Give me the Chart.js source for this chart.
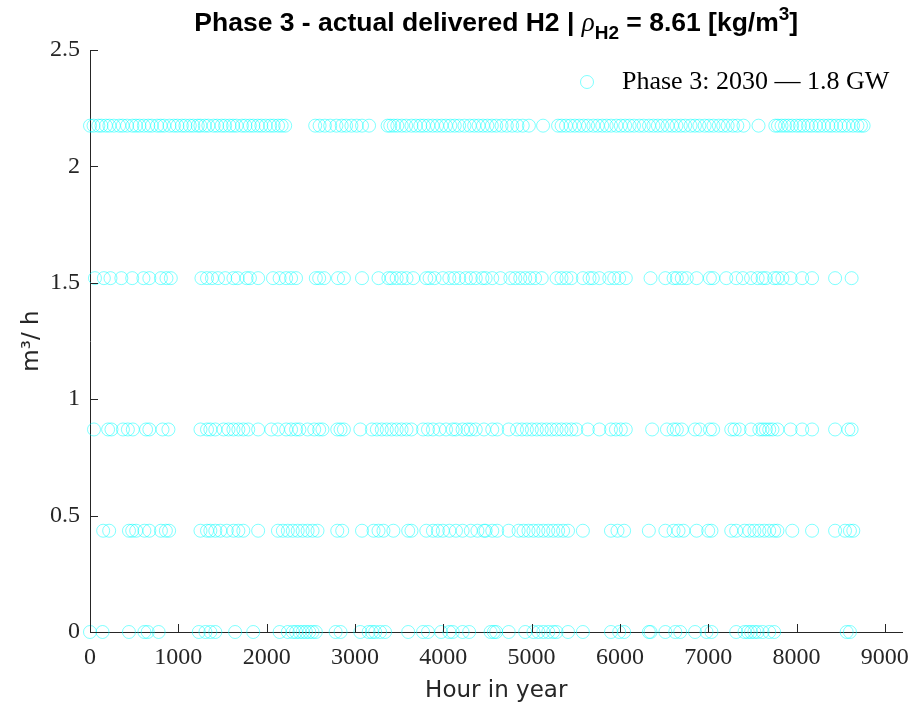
<!DOCTYPE html>
<html>
<head>
<meta charset="utf-8">
<script src="https://cdn.jsdelivr.net/npm/chart.js@4/dist/chart.umd.min.js"></script>
<style>
  html, body { margin: 0; padding: 0; background: #fff; }
  #wrap { width: 920px; height: 708px; }
</style>
</head>
<body>
<div id="wrap"><canvas id="phase3" width="920" height="708"></canvas></div>
<script>
"use strict";

// delivered flow levels [m3/h] and the hours of the year at which each one occurs
const levels = [0, 0.435, 0.87, 1.52, 2.175];

const hoursAt0 = [0, 142, 441, 616, 653, 777, 1232, 1307, 1363, 1419, 1643, 1848, 2147, 2240, 2296, 2333,
    2371, 2408, 2445, 2483, 2520, 2557, 2781, 2837, 3061, 3155, 3192, 3229, 3285, 3341, 3603, 3771, 3827,
    3976, 4069, 4107, 4219, 4293, 4536, 4573, 4599, 4741, 4928, 5021, 5077, 5133, 5189, 5245, 5283, 5413,
    5581, 5899, 5992, 6048, 6328, 6347, 6515, 6627, 6683, 6851, 6981, 7037, 7317, 7411, 7448, 7485, 7523,
    7560, 7616, 7691, 7747, 8568, 8605];

const hoursAt0435 = [149, 217, 441, 478, 523, 616, 672, 803, 859, 896, 1251, 1325, 1363, 1419, 1475, 1549,
    1624, 1680, 1736, 1904, 2128, 2184, 2240, 2296, 2352, 2408, 2464, 2520, 2576, 2800, 2856, 3080, 3211,
    3267, 3323, 3435, 3603, 3640, 3808, 3883, 3939, 3995, 4069, 4144, 4219, 4312, 4387, 4461, 4480, 4555,
    4611, 4741, 4853, 4909, 4965, 5021, 5077, 5133, 5189, 5245, 5301, 5357, 5413, 5581, 5899, 5973, 6048,
    6328, 6515, 6608, 6664, 6720, 6869, 7000, 7037, 7261, 7317, 7411, 7467, 7523, 7579, 7635, 7691, 7747,
    7784, 7952, 8176, 8437, 8549, 8605, 8643];

const hoursAt087 = [45, 205, 243, 373, 429, 485, 635, 672, 821, 888, 1251, 1325, 1363, 1419, 1512, 1568,
    1624, 1680, 1736, 1792, 1904, 2053, 2128, 2221, 2277, 2333, 2371, 2464, 2539, 2595, 2632, 2800, 2837,
    2875, 3061, 3192, 3248, 3304, 3360, 3416, 3472, 3528, 3584, 3640, 3771, 3827, 3883, 3957, 4032, 4107,
    4144, 4219, 4275, 4312, 4368, 4461, 4555, 4611, 4741, 4835, 4891, 4947, 5003, 5059, 5115, 5171, 5227,
    5283, 5339, 5395, 5451, 5507, 5637, 5768, 5899, 5955, 6011, 6067, 6365, 6533, 6608, 6645, 6701, 6851,
    6907, 7019, 7056, 7261, 7299, 7355, 7485, 7579, 7616, 7653, 7691, 7728, 7784, 7933, 8064, 8176, 8437,
    8587, 8624];

const hoursAt152 = [56, 157, 232, 355, 478, 605, 672, 803, 866, 915, 1262, 1325, 1381, 1449, 1531, 1624,
    1672, 1773, 1811, 1904, 2072, 2147, 2221, 2277, 2333, 2557, 2595, 2651, 2808, 2875, 3080, 3267, 3379,
    3416, 3472, 3528, 3584, 3659, 3808, 3845, 3901, 3995, 4069, 4125, 4181, 4256, 4312, 4368, 4443, 4480,
    4555, 4648, 4760, 4816, 4872, 4928, 4984, 5040, 5115, 5283, 5339, 5395, 5451, 5581, 5656, 5693, 5768,
    5880, 5936, 5992, 6067, 6347, 6515, 6608, 6645, 6701, 6757, 6869, 7019, 7056, 7205, 7317, 7392, 7485,
    7560, 7616, 7653, 7747, 7784, 7840, 7933, 8064, 8176, 8437, 8624];

const hoursAt2175 = [0, 40, 95, 130, 180, 220, 270, 330, 370, 420, 480, 520, 560, 610, 660, 700, 760, 800,
    840, 900, 950, 990, 1040, 1080, 1130, 1170, 1220, 1250, 1300, 1340, 1400, 1440, 1490, 1530, 1580, 1620,
    1660, 1720, 1760, 1810, 1850, 1900, 1940, 1990, 2040, 2080, 2130, 2170, 2210,
    2550, 2600, 2660, 2720, 2790, 2850, 2900, 2960, 3020, 3080, 3160,
    3370, 3400, 3440, 3480, 3530, 3580, 3640, 3690, 3740, 3780, 3830, 3880, 3930, 3980, 4030, 4080, 4130,
    4180, 4240, 4300, 4350, 4400, 4450, 4500, 4550, 4600, 4660, 4720, 4780, 4840, 4900, 4970,
    5130,
    5300, 5340, 5390, 5440, 5490, 5540, 5590, 5640, 5700, 5750, 5800, 5850, 5900, 5960, 6010, 6060, 6110,
    6160, 6220, 6270, 6330, 6380, 6430, 6480, 6540, 6590, 6640, 6690, 6740, 6800, 6850, 6900, 6960, 7010,
    7060, 7120, 7170, 7220, 7280, 7330, 7400,
    7570,
    7760, 7790, 7830, 7870, 7910, 7950, 8000, 8040, 8080, 8130, 8170, 8220, 8260, 8310, 8360, 8400, 8450,
    8500, 8540, 8590, 8640, 8690, 8730, 8760];

const xTicks = [0, 1000, 2000, 3000, 4000, 5000, 6000, 7000, 8000, 9000];
const yTicks = [0, 0.5, 1, 1.5, 2, 2.5];
const seriesLabel = 'Phase 3: 2030 \u2014 1.8 GW';

const MARKER = 'rgba(0, 255, 255, 0.5)';
const AXIS = '#262626';
const TICK_FONT = {family: 'Liberation Serif', size: 24};
const LABEL_FONT = {family: 'DejaVu Sans', size: 23};

const hourLists = [hoursAt0, hoursAt0435, hoursAt087, hoursAt152, hoursAt2175];
const points = [];
hourLists.forEach((hours, i) => {
    hours.forEach(h => points.push({x: h, y: levels[i]}));
});

// title with sub/superscripts, inward ticks and the legend are drawn here
const decorPlugin = {
    id: 'phase3Decor',
    afterDraw(chart) {
        const ctx = chart.ctx;
        const area = chart.chartArea;
        const xs = chart.scales.x;
        const ys = chart.scales.y;

        ctx.save();
        ctx.strokeStyle = AXIS;
        ctx.lineWidth = 1;
        ctx.beginPath();
        xTicks.forEach(v => {
            const px = Math.round(xs.getPixelForValue(v)) + 0.5;
            ctx.moveTo(px, area.bottom);
            ctx.lineTo(px, area.bottom - 8);
        });
        yTicks.forEach(v => {
            const py = Math.round(ys.getPixelForValue(v)) + 0.5;
            ctx.moveTo(area.left, py);
            ctx.lineTo(area.left + 8, py);
        });
        ctx.stroke();

        // title
        const big = 'bold 26.5px "Liberation Sans"';
        const small = 'bold 19px "Liberation Sans"';
        const parts = [
            {t: 'Phase 3 - actual delivered H2 | ', f: big, dy: 0},
            {t: '\u03C1', f: 'italic 27px "Liberation Serif"', dy: 0},
            {t: 'H2', f: small, dy: 8},
            {t: ' = 8.61 [kg/m', f: big, dy: 0},
            {t: '3', f: small, dy: -11},
            {t: ']', f: big, dy: 0}
        ];
        let total = 0;
        parts.forEach(p => {
            ctx.font = p.f;
            p.w = ctx.measureText(p.t).width;
            total += p.w;
        });
        let tx = (area.left + area.right) / 2 - total / 2;
        ctx.fillStyle = '#000';
        ctx.textBaseline = 'alphabetic';
        ctx.textAlign = 'left';
        parts.forEach(p => {
            ctx.font = p.f;
            ctx.fillText(p.t, tx, 31 + p.dy);
            tx += p.w;
        });

        // legend
        ctx.strokeStyle = MARKER;
        ctx.beginPath();
        ctx.arc(587, 82, 6.5, 0, Math.PI * 2);
        ctx.stroke();
        ctx.fillStyle = '#000';
        ctx.font = '26px "Liberation Serif"';
        ctx.textBaseline = 'middle';
        ctx.fillText(chart.data.datasets[0].label, 622, 82);
        ctx.restore();
    }
};

new Chart(document.getElementById('phase3'), {
    type: 'scatter',
    data: {
        datasets: [{
            label: seriesLabel,
            data: points,
            borderColor: MARKER,
            backgroundColor: 'rgba(0,0,0,0)',
            borderWidth: 1,
            pointRadius: 6.5,
            pointHoverRadius: 6.5,
            clip: false
        }]
    },
    options: {
        responsive: false,
        animation: false,
        events: [],
        layout: {padding: {top: 50, right: 8, left: 0, bottom: 0}},
        plugins: {
            legend: {display: false},
            tooltip: {enabled: false},
            title: {display: false}
        },
        scales: {
            x: {
                type: 'linear',
                min: 0,
                max: 9200,
                afterBuildTicks: scale => { scale.ticks = xTicks.map(v => ({value: v})); },
                afterFit: scale => { scale.height = 76; },
                grid: {display: false, drawTicks: false},
                border: {display: true, color: AXIS, width: 1},
                ticks: {font: TICK_FONT, color: AXIS, padding: 11, maxRotation: 0, autoSkip: false,
                    callback: v => String(v)},
                title: {display: true, text: 'Hour in year', font: LABEL_FONT, color: AXIS, padding: {bottom: 3}}
            },
            y: {
                type: 'linear',
                min: 0,
                max: 2.5,
                afterBuildTicks: scale => { scale.ticks = yTicks.map(v => ({value: v})); },
                afterFit: scale => { scale.width = 90; },
                grid: {display: false, drawTicks: false},
                border: {display: true, color: AXIS, width: 1},
                ticks: {font: TICK_FONT, color: AXIS, padding: 10, callback: v => String(v)},
                title: {display: true, text: 'm\u00B3/ h', font: LABEL_FONT, color: AXIS, padding: {top: 18}}
            }
        }
    },
    plugins: [decorPlugin]
});
</script>
</body>
</html>
